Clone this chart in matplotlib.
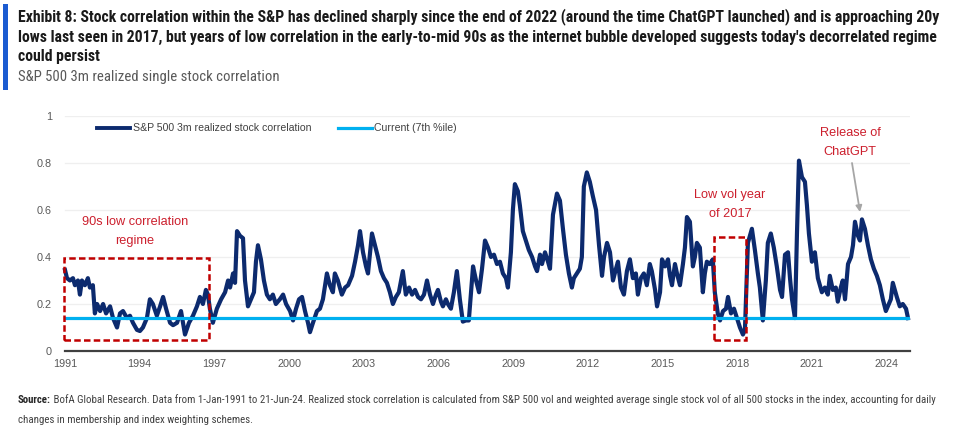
import matplotlib
matplotlib.use('Agg')
import matplotlib.pyplot as plt
from matplotlib import font_manager
from matplotlib.patches import Rectangle
from matplotlib.lines import Line2D

# ---------------- data ----------------
years = [
    1991.00, 1991.08, 1991.20, 1991.32, 1991.40, 1991.52, 1991.60, 1991.68, 1991.80, 1991.92,
    1992.00, 1992.12, 1992.20, 1992.29, 1992.41, 1992.53, 1992.65, 1992.81, 1992.93,
    1993.09, 1993.21, 1993.33, 1993.49, 1993.61, 1993.73, 1993.89,
    1994.01, 1994.13, 1994.29, 1994.41, 1994.53, 1994.69, 1994.82, 1994.94,
    1995.06, 1995.22, 1995.34, 1995.50, 1995.66, 1995.82, 1995.98,
    1996.14, 1996.30, 1996.42, 1996.54, 1996.66, 1996.74, 1996.82, 1996.94,
    1997.10, 1997.27, 1997.43, 1997.55, 1997.63, 1997.75, 1997.83, 1997.91,
    1998.03, 1998.15, 1998.23, 1998.35, 1998.47, 1998.59, 1998.67, 1998.75, 1998.87, 1998.99,
    1999.11, 1999.23, 1999.35, 1999.47, 1999.63, 1999.76, 1999.88,
    2000.04, 2000.16, 2000.28, 2000.40, 2000.52, 2000.64, 2000.76, 2000.84, 2000.96,
    2001.12, 2001.24, 2001.36, 2001.52, 2001.64, 2001.76, 2001.84, 2001.96,
    2002.12, 2002.25, 2002.37, 2002.53, 2002.65, 2002.77, 2002.85, 2002.97,
    2003.09, 2003.17, 2003.33, 2003.45, 2003.57, 2003.69, 2003.81, 2003.93,
    2004.05, 2004.17, 2004.29, 2004.41, 2004.57, 2004.69, 2004.82, 2004.94,
    2005.06, 2005.18, 2005.30, 2005.42, 2005.54, 2005.66, 2005.78, 2005.90, 2005.98,
    2006.10, 2006.18, 2006.30, 2006.38, 2006.50, 2006.62, 2006.74, 2006.86, 2006.98,
    2007.10, 2007.22, 2007.31, 2007.39, 2007.51, 2007.63, 2007.75, 2007.87, 2007.99,
    2008.11, 2008.23, 2008.35, 2008.47, 2008.59, 2008.71, 2008.79, 2008.91, 2008.99,
    2009.07, 2009.19, 2009.27, 2009.39, 2009.51, 2009.63, 2009.76, 2009.88, 2009.96,
    2010.08, 2010.16, 2010.28, 2010.40, 2010.48, 2010.60, 2010.76, 2010.88,
    2011.00, 2011.12, 2011.24, 2011.36, 2011.44, 2011.56, 2011.68, 2011.76, 2011.84, 2011.96,
    2012.08, 2012.20, 2012.33, 2012.45, 2012.57, 2012.65, 2012.77, 2012.89,
    2013.01, 2013.13, 2013.21, 2013.33, 2013.45, 2013.57, 2013.69, 2013.81, 2013.93,
    2014.01, 2014.13, 2014.25, 2014.37, 2014.49, 2014.57, 2014.70, 2014.78, 2014.90, 2014.98,
    2015.10, 2015.22, 2015.30, 2015.38, 2015.50, 2015.58, 2015.70, 2015.82, 2015.90, 2015.98,
    2016.10, 2016.22, 2016.30, 2016.38, 2016.50, 2016.62, 2016.70, 2016.78, 2016.90,
    2017.02, 2017.10, 2017.22, 2017.31, 2017.43, 2017.55, 2017.63, 2017.75, 2017.87, 2017.99,
    2018.11, 2018.23, 2018.31, 2018.43, 2018.59, 2018.71, 2018.83, 2018.91,
    2019.03, 2019.15, 2019.23, 2019.35, 2019.47, 2019.59, 2019.72, 2019.80, 2019.92,
    2020.04, 2020.12, 2020.20, 2020.32, 2020.40, 2020.48, 2020.60, 2020.72, 2020.80, 2020.88,
    2021.00, 2021.12, 2021.24, 2021.32, 2021.40, 2021.52, 2021.64, 2021.72, 2021.84, 2021.96,
    2022.04, 2022.16, 2022.24, 2022.33, 2022.45, 2022.57, 2022.65, 2022.73, 2022.85, 2022.93,
    2023.01, 2023.13, 2023.25, 2023.37, 2023.49, 2023.61, 2023.73, 2023.85, 2023.97,
    2024.05, 2024.17, 2024.25, 2024.33, 2024.41, 2024.53, 2024.65, 2024.78, 2024.86,
]
correlation = [
    0.345, 0.31, 0.30, 0.31, 0.28, 0.30, 0.24, 0.30, 0.28, 0.31,
    0.27, 0.28, 0.16, 0.20, 0.17, 0.20, 0.16, 0.19, 0.14,
    0.10, 0.16, 0.17, 0.14, 0.15, 0.12, 0.09,
    0.085, 0.10, 0.14, 0.22, 0.20, 0.15, 0.19, 0.23,
    0.18, 0.12, 0.11, 0.12, 0.17, 0.07, 0.12,
    0.15, 0.19, 0.23, 0.20, 0.26, 0.24, 0.18, 0.12,
    0.18, 0.22, 0.25, 0.30, 0.27, 0.33, 0.29, 0.51,
    0.49, 0.48, 0.30, 0.19, 0.22, 0.25, 0.38, 0.45, 0.39, 0.30,
    0.24, 0.22, 0.24, 0.20, 0.22, 0.24, 0.20,
    0.17, 0.13, 0.18, 0.22, 0.23, 0.17, 0.12, 0.08, 0.12,
    0.17, 0.18, 0.22, 0.33, 0.28, 0.25, 0.33, 0.30,
    0.24, 0.27, 0.28, 0.32, 0.38, 0.45, 0.51, 0.42,
    0.36, 0.33, 0.50, 0.45, 0.40, 0.34, 0.31, 0.29,
    0.25, 0.20, 0.23, 0.25, 0.34, 0.24, 0.27, 0.24,
    0.26, 0.23, 0.22, 0.24, 0.30, 0.24, 0.20, 0.24, 0.26,
    0.21, 0.19, 0.22, 0.20, 0.18, 0.25, 0.34, 0.22, 0.125,
    0.13, 0.13, 0.25, 0.36, 0.30, 0.25, 0.35, 0.47, 0.44,
    0.40, 0.41, 0.37, 0.38, 0.33, 0.31, 0.27, 0.42, 0.60,
    0.71, 0.68, 0.62, 0.51, 0.47, 0.43, 0.40, 0.36, 0.34,
    0.41, 0.37, 0.42, 0.38, 0.35, 0.58, 0.67, 0.64,
    0.52, 0.41, 0.33, 0.27, 0.31, 0.33, 0.35, 0.40, 0.70, 0.76,
    0.72, 0.66, 0.60, 0.45, 0.32, 0.40, 0.46, 0.42,
    0.30, 0.35, 0.38, 0.27, 0.24, 0.34, 0.39, 0.31, 0.33,
    0.24, 0.31, 0.33, 0.28, 0.37, 0.34, 0.26, 0.19, 0.25, 0.39,
    0.36, 0.39, 0.32, 0.28, 0.37, 0.33, 0.28, 0.37, 0.44, 0.57,
    0.55, 0.36, 0.40, 0.46, 0.44, 0.25, 0.33, 0.38, 0.37,
    0.39, 0.25, 0.16, 0.13, 0.17, 0.18, 0.23, 0.16, 0.18, 0.14,
    0.10, 0.07, 0.09, 0.46, 0.52, 0.43, 0.33, 0.27,
    0.13, 0.30, 0.46, 0.50, 0.44, 0.36, 0.26, 0.23, 0.41,
    0.42, 0.31, 0.22, 0.14, 0.50, 0.81, 0.74, 0.72, 0.62, 0.50,
    0.38, 0.42, 0.31, 0.28, 0.25, 0.27, 0.24, 0.32, 0.26, 0.27,
    0.21, 0.27, 0.30, 0.22, 0.37, 0.40, 0.45, 0.55, 0.49, 0.47,
    0.56, 0.52, 0.45, 0.39, 0.35, 0.32, 0.28, 0.22, 0.17,
    0.19, 0.22, 0.29, 0.26, 0.23, 0.19, 0.20, 0.18, 0.14,
]
current_level = 0.14

x_ticks = [1991, 1994, 1997, 2000, 2003, 2006, 2009, 2012, 2015, 2018, 2021, 2024]
x_labels = [str(y) for y in x_ticks]
y_ticks = [0, 0.2, 0.4, 0.6, 0.8, 1.0]
y_labels = ['0', '0.2', '0.4', '0.6', '0.8', '1']

series_name = 'S&P 500 3m realized stock correlation'
current_name = 'Current (7th %ile)'

title_lines = [
    "Exhibit 8: Stock correlation within the S&P has declined sharply since the end of 2022 (around the time ChatGPT launched) and is approaching 20y",
    "lows last seen in 2017, but years of low correlation in the early-to-mid 90s as the internet bubble developed suggests today's decorrelated regime",
    "could persist",
]
subtitle = "S&P 500 3m realized single stock correlation"
source_bold = "Source:"
source_line1 = (" BofA Global Research. Data from 1-Jan-1991 to 21-Jun-24. Realized stock correlation is calculated from S&P 500 vol "
                "and weighted average single stock vol of all 500 stocks in the index, accounting for daily")
source_line2 = "changes in membership and index weighting schemes."

# ---------------- styling ----------------
W, H = 959, 432
NAVY = '#0C2A6E'
LIGHT_BLUE = '#00B0F0'
RED_TXT = '#CC1F2D'
RED_BOX = '#C00000'
GRAY_TXT = '#595959'

names = {f.name for f in font_manager.fontManager.ttflist}
def pick(cands):
    for c in cands:
        if c in names:
            return c
    return 'DejaVu Sans'
NARROW = pick(['Liberation Sans Narrow', 'Roboto Condensed', 'Open Sans Condensed', 'Liberation Sans'])
ARIAL = pick(['Liberation Sans', 'Arimo', 'DejaVu Sans'])

fig = plt.figure(figsize=(W / 100, H / 100), dpi=100)
fig.patch.set_facecolor('white')

def fx(px):
    return px / W

def fy(py):
    return 1 - py / H

# axes: x from 62px to 910px, y from 116px (1.0) to 351px (0)
ax = fig.add_axes([fx(62), fy(351), (910 - 62) / W, (351 - 116) / H])
ax.set_xlim(1990.88, 2024.94)
ax.set_ylim(0, 1)
for s in ax.spines.values():
    s.set_visible(False)
ax.set_facecolor('none')

for yv in y_ticks[1:]:
    ax.axhline(yv, xmin=3 / 848, xmax=1, color='#EFEFEF', lw=0.9, zorder=0)
ax.axhline(0, xmin=3 / 848, xmax=1, color='#404040', lw=1.6, zorder=1, clip_on=False)

ax.set_yticks(y_ticks)
ax.set_yticklabels(y_labels, fontsize=7.8, color=GRAY_TXT, family=ARIAL)
ax.set_xticks(x_ticks)
ax.set_xticklabels(x_labels, fontsize=7.8, color=GRAY_TXT, family=ARIAL)
ax.tick_params(axis='y', length=0, pad=7.3)
ax.tick_params(axis='x', length=0, pad=6.0)

ax.plot(years, correlation, color=NAVY, lw=3.0, solid_joinstyle='round', zorder=3, clip_on=False)
ax.plot([years[0], years[-1]], [current_level, current_level], color=LIGHT_BLUE, lw=2.3, zorder=4)

# dashed boxes
ax.add_patch(Rectangle((1990.96, 0.046), 1996.78 - 1990.96, 0.396 - 0.046, fill=False,
                       edgecolor=RED_BOX, lw=1.8, linestyle=(0, (2.6, 1.3)), zorder=5, clip_on=False))
ax.add_patch(Rectangle((2017.06, 0.046), 2018.36 - 2017.06, 0.483 - 0.046, fill=False,
                       edgecolor=RED_BOX, lw=1.8, linestyle=(0, (2.6, 1.3)), zorder=5, clip_on=False))

# annotation texts
def ftext(px, py, s, **kw):
    return fig.text(fx(px), fy(py), s, **kw)

for (px, py, s) in [(135, 222, '90s low correlation'), (135, 241, 'regime'),
                    (730, 195, 'Low vol year'), (730, 214, 'of 2017'),
                    (850, 133, 'Release of'), (850, 152, 'ChatGPT')]:
    ftext(px, py, s, ha='center', va='center', fontsize=9.2, color=RED_TXT, family=ARIAL)

ax.annotate('', xy=(860, H - 212), xycoords='figure pixels',
            xytext=(852, H - 163), textcoords='figure pixels',
            arrowprops=dict(arrowstyle='-|>', color='#A6A6A6', lw=1.3, mutation_scale=9,
                            shrinkA=0, shrinkB=0))

# legend (drawn manually)
fig.add_artist(Line2D([fx(97), fx(130)], [fy(128), fy(128)], color=NAVY, lw=2.8))
ftext(133, 128, series_name, ha='left', va='center', fontsize=7.6, color='#404040', family=ARIAL)
fig.add_artist(Line2D([fx(338), fx(372)], [fy(128), fy(128)], color=LIGHT_BLUE, lw=2.3))
ftext(374, 128, current_name, ha='left', va='center', fontsize=7.6, color='#404040', family=ARIAL)

# header
fig.add_artist(Rectangle((fx(3), fy(90)), fx(8) - fx(3), (90 - 4) / H, transform=fig.transFigure,
                         facecolor='#1B5BD1', edgecolor='none'))
title_objs = []
for i, line in enumerate(title_lines):
    title_objs.append(ftext(18, 17 + 20 * i, line, ha='left', va='center', fontsize=11,
                            fontweight='bold', color='#1A1A1A', family=NARROW))
sub = ftext(18, 77, subtitle, ha='left', va='center', fontsize=11, color=GRAY_TXT, family=NARROW)

src_b = ftext(18, 400, source_bold, ha='left', va='center', fontsize=6.5, fontweight='bold',
              color='#262626', family=NARROW)
src_1 = ftext(18, 400, source_line1, ha='left', va='center', fontsize=6.5, color='#404040', family=NARROW)
src_2 = ftext(18, 420, source_line2, ha='left', va='center', fontsize=6.5, color='#404040', family=NARROW)

# fit header/footer widths to the reference
fig.canvas.draw()
r = fig.canvas.get_renderer()
w0 = title_objs[0].get_window_extent(r).width
fs_t = 11 * (938 - 18) / w0
for t in title_objs:
    t.set_fontsize(fs_t)
ws = sub.get_window_extent(r).width
sub.set_fontsize(11 * (277 - 18) / ws)

wb = src_b.get_window_extent(r).width
w1 = src_1.get_window_extent(r).width
fs_s = 6.5 * (929 - 18) / (wb + w1)
for t in (src_b, src_1, src_2):
    t.set_fontsize(fs_s)
fig.canvas.draw()
wb = src_b.get_window_extent(r).width
src_1.set_x(fx(18 + wb))

fig.savefig('out.png', dpi=100, facecolor='white')
